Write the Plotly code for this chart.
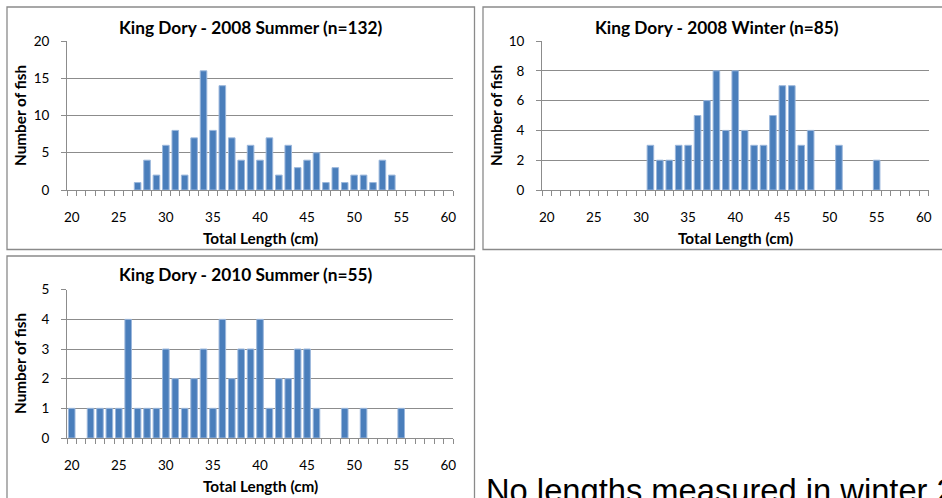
import plotly.graph_objects as go

# Length-frequency data (total length in cm -> number of fish)
summer08_len = [27, 28, 29, 30, 31, 32, 33, 34, 35, 36, 37, 38, 39, 40, 41, 42, 43, 44,
                45, 46, 47, 48, 49, 50, 51, 52, 53, 54]
summer08_cnt = [1, 4, 2, 6, 8, 2, 7, 16, 8, 14, 7, 4, 6, 4, 7, 2, 6, 3,
                4, 5, 1, 3, 1, 2, 2, 1, 4, 2]

winter08_len = [31, 32, 33, 34, 35, 36, 37, 38, 39, 40, 41, 42, 43, 44, 45, 46, 47, 48, 51, 55]
winter08_cnt = [3, 2, 2, 3, 3, 5, 6, 8, 4, 8, 4, 3, 3, 5, 7, 7, 3, 4, 3, 2]

summer10_len = [20, 22, 23, 24, 25, 26, 27, 28, 29, 30, 31, 32, 33, 34, 35, 36, 37, 38,
                39, 40, 41, 42, 43, 44, 45, 46, 49, 51, 55]
summer10_cnt = [1, 1, 1, 1, 1, 4, 1, 1, 1, 3, 2, 1, 2, 3, 1, 4, 2, 3,
                3, 4, 1, 2, 2, 3, 3, 1, 1, 1, 1]

panel_titles = ["King Dory - 2008 Summer (n=132)",
                "King Dory - 2008 Winter (n=85)",
                "King Dory - 2010 Summer (n=55)"]
x_title = "Total Length (cm)"
y_title = "Number of fish"
note_text = "No lengths measured in winter 2010"
x_ticks = [20, 25, 30, 35, 40, 45, 50, 55, 60]

W, H = 942, 498
FONT = "Lato"
GRID = "#8c8c8c"
BAR = "#4a7ebb"


def fx(px):
    return px / W


def fy(py):
    return 1 - py / H


fig = go.Figure()

series = [(summer08_len, summer08_cnt), (winter08_len, winter08_cnt), (summer10_len, summer10_cnt)]
for i, (xs, ys) in enumerate(series):
    sfx = "" if i == 0 else str(i + 1)
    fig.add_trace(go.Bar(
        x=xs, y=ys, width=0.7, xaxis="x" + sfx, yaxis="y" + sfx,
        marker=dict(color=BAR, line=dict(color="#9bb7dc", width=1)),
        showlegend=False, hoverinfo="x+y",
    ))

# plot-area geometry in pixels: (left, right, top, bottom), y max, y step
areas = [
    (67, 453, 41, 190, 20, 5),
    (542, 928.5, 41, 190, 10, 2),
    (67, 453, 289.7, 438, 5, 1),
]

layout_axes = {}
for i, (l, r, t, b, ymax, ystep) in enumerate(areas):
    sfx = "" if i == 0 else str(i + 1)
    layout_axes["xaxis" + sfx] = dict(
        domain=[fx(l), fx(r)], anchor="y" + sfx, range=[19.5, 60.5],
        tickvals=x_ticks, ticks="", showgrid=False, zeroline=False,
        showline=True, linecolor=GRID, linewidth=1, automargin=False,
        tickfont=dict(family=FONT, size=13.5, color="#000"),
        ticklabelstandoff=15,
        minor=dict(tick0=19.5, dtick=1, ticks="outside", ticklen=5,
                   tickcolor=GRID, tickwidth=1, showgrid=False),
        fixedrange=True,
    )
    layout_axes["yaxis" + sfx] = dict(
        domain=[fy(b), fy(t)], anchor="x" + sfx, range=[0, ymax], dtick=ystep,
        ticks="outside", ticklen=5, tickcolor=GRID, automargin=False,
        showgrid=True, gridcolor=GRID, gridwidth=1, zeroline=False,
        showline=True, linecolor=GRID, linewidth=1,
        tickfont=dict(family=FONT, size=13.5, color="#000"),
        ticklabelstandoff=9,
        fixedrange=True,
    )

annotations = []
# chart titles
for txt, cx, cy in zip(panel_titles, [251, 716.5, 246], [27, 27, 274]):
    annotations.append(dict(text="<b>%s</b>" % txt, x=fx(cx), y=fy(cy), xref="paper", yref="paper",
                            showarrow=False, xanchor="center", yanchor="middle",
                            font=dict(family=FONT, size=17.3, color="#000")))
# axis titles
for cx, cy in [(260, 238), (735, 238), (260, 486)]:
    annotations.append(dict(text="<b>%s</b>" % x_title, x=fx(cx), y=fy(cy), xref="paper", yref="paper",
                            showarrow=False, xanchor="center", yanchor="middle",
                            font=dict(family=FONT, size=15.3, color="#000")))
for cx, cy in [(20, 116), (496, 116), (20, 364)]:
    annotations.append(dict(text="<b>%s</b>" % y_title, x=fx(cx), y=fy(cy), xref="paper", yref="paper",
                            showarrow=False, xanchor="center", yanchor="middle", textangle=-90,
                            font=dict(family=FONT, size=15.3, color="#000")))
# note beside the third chart
annotations.append(dict(text=note_text, x=fx(484), y=fy(490), xref="paper", yref="paper",
                        showarrow=False, xanchor="left", yanchor="middle",
                        font=dict(family="Liberation Sans", size=32.7, color="#000")))

# chart frames
shapes = []
for x0, x1, y0, y1 in [(7, 474.5, 7, 249.5), (483, 960, 7, 249.5), (7, 474.5, 256, 520)]:
    shapes.append(dict(type="rect", xref="paper", yref="paper",
                       x0=fx(x0), x1=fx(x1), y0=fy(y1), y1=fy(y0),
                       line=dict(color="#8a8a8a", width=1.3), fillcolor="rgba(0,0,0,0)"))

fig.update_layout(
    width=W, height=H, margin=dict(l=0, r=0, t=0, b=0, autoexpand=False),
    paper_bgcolor="white", plot_bgcolor="white",
    bargap=0.3, annotations=annotations, shapes=shapes,
    **layout_axes,
)

fig.write_html("out.html", config={"displayModeBar": False})
